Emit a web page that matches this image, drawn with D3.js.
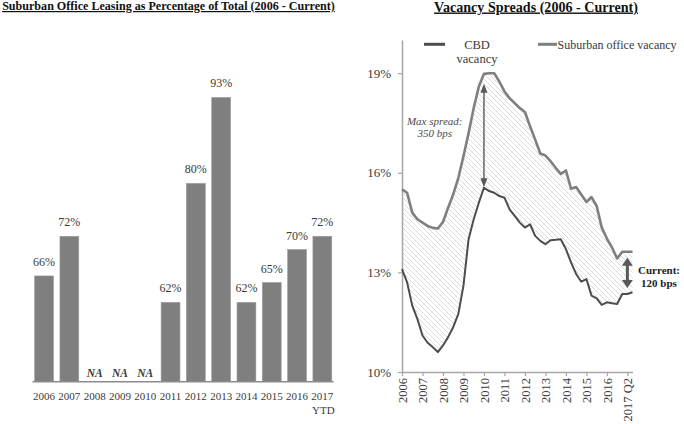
<!DOCTYPE html>
<html><head><meta charset="utf-8">
<script src="https://cdn.jsdelivr.net/npm/d3@7"></script>
<style>
html,body{margin:0;padding:0;background:#fff;}
svg{display:block;font-family:"Liberation Serif","Times New Roman",serif;}
</style></head><body>
<svg id="chart" width="684" height="424"></svg>
<script>
// ---------- Left chart data ----------
const leftTitle = "Suburban Office Leasing as Percentage of Total (2006 - Current)";
const barYears = ["2006","2007","2008","2009","2010","2011","2012","2013","2014","2015","2016","2017"];
const barYearSub = ["","","","","","","","","","","","YTD"];
const leasingShare = [66, 72, null, null, null, 62, 80, 93, 62, 65, 70, 72];
const missingLabel = "NA";

// ---------- Right chart data ----------
const rightTitle = "Vacancy Spreads (2006 - Current)";
const quarterTickLabels = ["2006","2007","2008","2009","2010","2011","2012","2013","2014","2015","2016","2017 Q2"];
const suburbanVacancy = [15.5, 15.4, 14.8, 14.6, 14.5, 14.4, 14.34, 14.32, 14.52, 14.95, 15.35, 15.85,
  16.5, 17.2, 17.95, 18.6, 18.98, 19.0, 19.0, 18.75, 18.45, 18.25, 18.1, 17.95,
  17.83, 17.4, 17.0, 16.58, 16.52, 16.35, 16.15, 15.97, 16.07, 15.52, 15.57, 15.35,
  15.12, 15.27, 15.0, 14.35, 14.02, 13.75, 13.42, 13.62, 13.62, 13.62];
const cbdVacancy = [13.1, 12.7, 12.0, 11.6, 11.1, 10.88, 10.75, 10.6, 10.8, 11.05, 11.35, 11.75,
  12.6, 14.0, 14.6, 15.1, 15.55, 15.45, 15.4, 15.3, 15.25, 14.9, 14.7, 14.5,
  14.35, 14.45, 14.1, 13.95, 13.85, 13.97, 13.98, 14.0, 13.7, 13.3, 12.95, 12.72,
  12.8, 12.3, 12.22, 12.02, 12.1, 12.07, 12.05, 12.35, 12.35, 12.4];
const vacancyTicks = [10, 13, 16, 19];
const legendNames = ["CBD vacancy", "Suburban office vacancy"];
const maxSpreadText = ["Max spread:", "350 bps"];
const currentSpreadText = ["Current:", "120 bps"];

const svg = d3.select("#chart");
const textColor = "#3a3a3a";

function fitWidth(sel, target) {
  const w = sel.node().getComputedTextLength();
  const fs = parseFloat(sel.attr("font-size"));
  sel.attr("font-size", (fs * target / w).toFixed(2));
}

// ================= LEFT CHART =================
const tL = svg.append("text").attr("x", 168.5).attr("y", 10).attr("text-anchor", "middle")
  .attr("font-size", 12.6).attr("font-weight", "bold").attr("fill", "#111")
  .style("text-decoration", "underline").text(leftTitle);
fitWidth(tL, 333);

const xb = d3.scaleBand().domain(barYears).range([31.6, 334.8]).paddingInner(0.255).paddingOuter(0.12);
const yb = d3.scaleLinear().domain([50, 100]).range([381.7, 381.7 - 50 * 6.61]);

const gL = svg.append("g");
barYears.forEach((yr, i) => {
  const v = leasingShare[i];
  const cx = xb(yr) + xb.bandwidth() / 2;
  if (v != null) {
    gL.append("rect").attr("x", xb(yr)).attr("width", xb.bandwidth())
      .attr("y", yb(v)).attr("height", yb(50) - yb(v))
      .attr("fill", "#7f7f7f").attr("stroke", "#9a9a9a").attr("stroke-width", 0.6);
    gL.append("text").attr("x", cx).attr("y", yb(v) - 10).attr("text-anchor", "middle")
      .attr("font-size", 12).attr("fill", textColor).text(v + "%");
  } else {
    gL.append("text").attr("x", cx).attr("y", 377).attr("text-anchor", "middle")
      .attr("font-size", 11.5).attr("font-weight", "bold").attr("font-style", "italic")
      .attr("fill", textColor).text(missingLabel);
  }
  gL.append("text").attr("x", cx).attr("y", 400).attr("text-anchor", "middle")
    .attr("font-size", 11).attr("fill", textColor).text(yr);
  if (barYearSub[i]) {
    gL.append("text").attr("x", cx + 1).attr("y", 414).attr("text-anchor", "middle")
      .attr("font-size", 11).attr("fill", textColor).text(barYearSub[i]);
  }
});
gL.append("line").attr("x1", 32.5).attr("x2", 333.5).attr("y1", yb(50)).attr("y2", yb(50))
  .attr("stroke", "#8c8c8c").attr("stroke-width", 1.5);

// ================= RIGHT CHART =================
const tR = svg.append("text").attr("x", 536).attr("y", 11.5).attr("text-anchor", "middle")
  .attr("font-size", 12.6).attr("font-weight", "bold").attr("fill", "#111")
  .style("text-decoration", "underline").text(rightTitle);
fitWidth(tR, 204);

const n = suburbanVacancy.length;
const xq = d3.scaleLinear().domain([0, n - 1]).range([402, 632.5]);
const yv = d3.scaleLinear().domain([10, 20]).range([372, 40]);

const defs = svg.append("defs");
const pat = defs.append("pattern").attr("id", "hatch").attr("patternUnits", "userSpaceOnUse")
  .attr("width", 5).attr("height", 5);
pat.append("path").attr("d", "M-1,-1 L6,6 M-1,4 L1,6 M4,-1 L6,1")
  .attr("stroke", "#d2d2d2").attr("stroke-width", 0.8);

const gR = svg.append("g");
const area = d3.area().x((d, i) => xq(i)).y0((d, i) => yv(cbdVacancy[i])).y1((d, i) => yv(suburbanVacancy[i]));
gR.append("path").datum(suburbanVacancy).attr("d", area).attr("fill", "url(#hatch)");

// axes
const yAxis = d3.axisLeft(yv).tickValues(vacancyTicks).tickFormat(d => d + "%").tickSize(4).tickSizeOuter(0).tickPadding(7);
const gy = gR.append("g").attr("transform", "translate(402,0)").call(yAxis);
gy.select(".domain").attr("stroke", "#a6a6a6").attr("stroke-width", 1.5);
gy.selectAll(".tick line").attr("stroke", "#a6a6a6").attr("stroke-width", 1.2);
gy.selectAll(".tick text").attr("font-size", 13).attr("fill", textColor)
  .attr("font-family", "Liberation Serif, Times New Roman, serif");

const xTickIdx = d3.range(0, n, 4);
const xAxis = d3.axisBottom(xq).tickValues(xTickIdx).tickFormat((d, i) => quarterTickLabels[i]).tickSize(4).tickSizeOuter(0);
const gx = gR.append("g").attr("transform", "translate(0,372)").call(xAxis);
gx.select(".domain").attr("stroke", "#a6a6a6").attr("stroke-width", 1.5);
gx.selectAll(".tick line").attr("stroke", "#a6a6a6").attr("stroke-width", 1.2);
gx.selectAll(".tick text").attr("font-size", 12.5).attr("fill", textColor)
  .attr("font-family", "Liberation Serif, Times New Roman, serif")
  .attr("transform", "rotate(-90)").attr("text-anchor", "end")
  .attr("x", -6).attr("y", 0).attr("dy", "0.35em");

// lines
const line = d3.line().x((d, i) => xq(i)).y(d => yv(d));
gR.append("path").datum(cbdVacancy).attr("d", line).attr("fill", "none")
  .attr("stroke", "#4d4d4d").attr("stroke-width", 2).attr("stroke-linejoin", "round");
gR.append("path").datum(suburbanVacancy).attr("d", line).attr("fill", "none")
  .attr("stroke", "#7f7f7f").attr("stroke-width", 2.6).attr("stroke-linejoin", "round");

// double arrows
function doubleArrow(x, yTop, yBot, headW, headL, lw, color) {
  const g = gR.append("g");
  g.append("line").attr("x1", x).attr("x2", x).attr("y1", yTop + headL - 1).attr("y2", yBot - headL + 1)
    .attr("stroke", color).attr("stroke-width", lw);
  g.append("path").attr("d", `M${x},${yTop} L${x - headW / 2},${yTop + headL} L${x + headW / 2},${yTop + headL} Z`).attr("fill", color);
  g.append("path").attr("d", `M${x},${yBot} L${x - headW / 2},${yBot - headL} L${x + headW / 2},${yBot - headL} Z`).attr("fill", color);
}
const iMax = 16;
doubleArrow(xq(iMax), yv(suburbanVacancy[iMax]) + 10, yv(cbdVacancy[iMax]) - 0.5, 7, 9, 1.4, "#595959");
const iCur = n - 2;
doubleArrow(xq(iCur), yv(suburbanVacancy[iCur]) + 6, yv(cbdVacancy[iCur]) - 6, 11, 8, 3, "#595959");

// annotation text
gR.append("text").attr("x", 434.7).attr("y", 124.5).attr("text-anchor", "middle").attr("font-size", 11)
  .attr("font-style", "italic").attr("fill", "#4a4a4a").text(maxSpreadText[0]);
gR.append("text").attr("x", 434.7).attr("y", 137).attr("text-anchor", "middle").attr("font-size", 11)
  .attr("font-style", "italic").attr("fill", "#4a4a4a").text(maxSpreadText[1]);
gR.append("text").attr("x", 659).attr("y", 274).attr("text-anchor", "middle").attr("font-size", 11)
  .attr("font-weight", "bold").attr("fill", "#222").text(currentSpreadText[0]);
gR.append("text").attr("x", 659).attr("y", 287).attr("text-anchor", "middle").attr("font-size", 11)
  .attr("font-weight", "bold").attr("fill", "#222").text(currentSpreadText[1]);

// legend
const gLeg = svg.append("g");
gLeg.append("line").attr("x1", 424).attr("x2", 445).attr("y1", 44.3).attr("y2", 44.3)
  .attr("stroke", "#4d4d4d").attr("stroke-width", 3);
const cbdWords = legendNames[0].split(" ");
gLeg.append("text").attr("x", 477).attr("y", 48.5).attr("text-anchor", "middle").attr("font-size", 12.5)
  .attr("fill", textColor).text(cbdWords[0]);
gLeg.append("text").attr("x", 477).attr("y", 62.5).attr("text-anchor", "middle").attr("font-size", 12.5)
  .attr("fill", textColor).text(cbdWords[1]);
gLeg.append("line").attr("x1", 538).attr("x2", 557).attr("y1", 44.3).attr("y2", 44.3)
  .attr("stroke", "#7f7f7f").attr("stroke-width", 3);
gLeg.append("text").attr("x", 557.5).attr("y", 48.5).attr("font-size", 12)
  .attr("fill", textColor).text(legendNames[1]);
</script>
</body></html>
